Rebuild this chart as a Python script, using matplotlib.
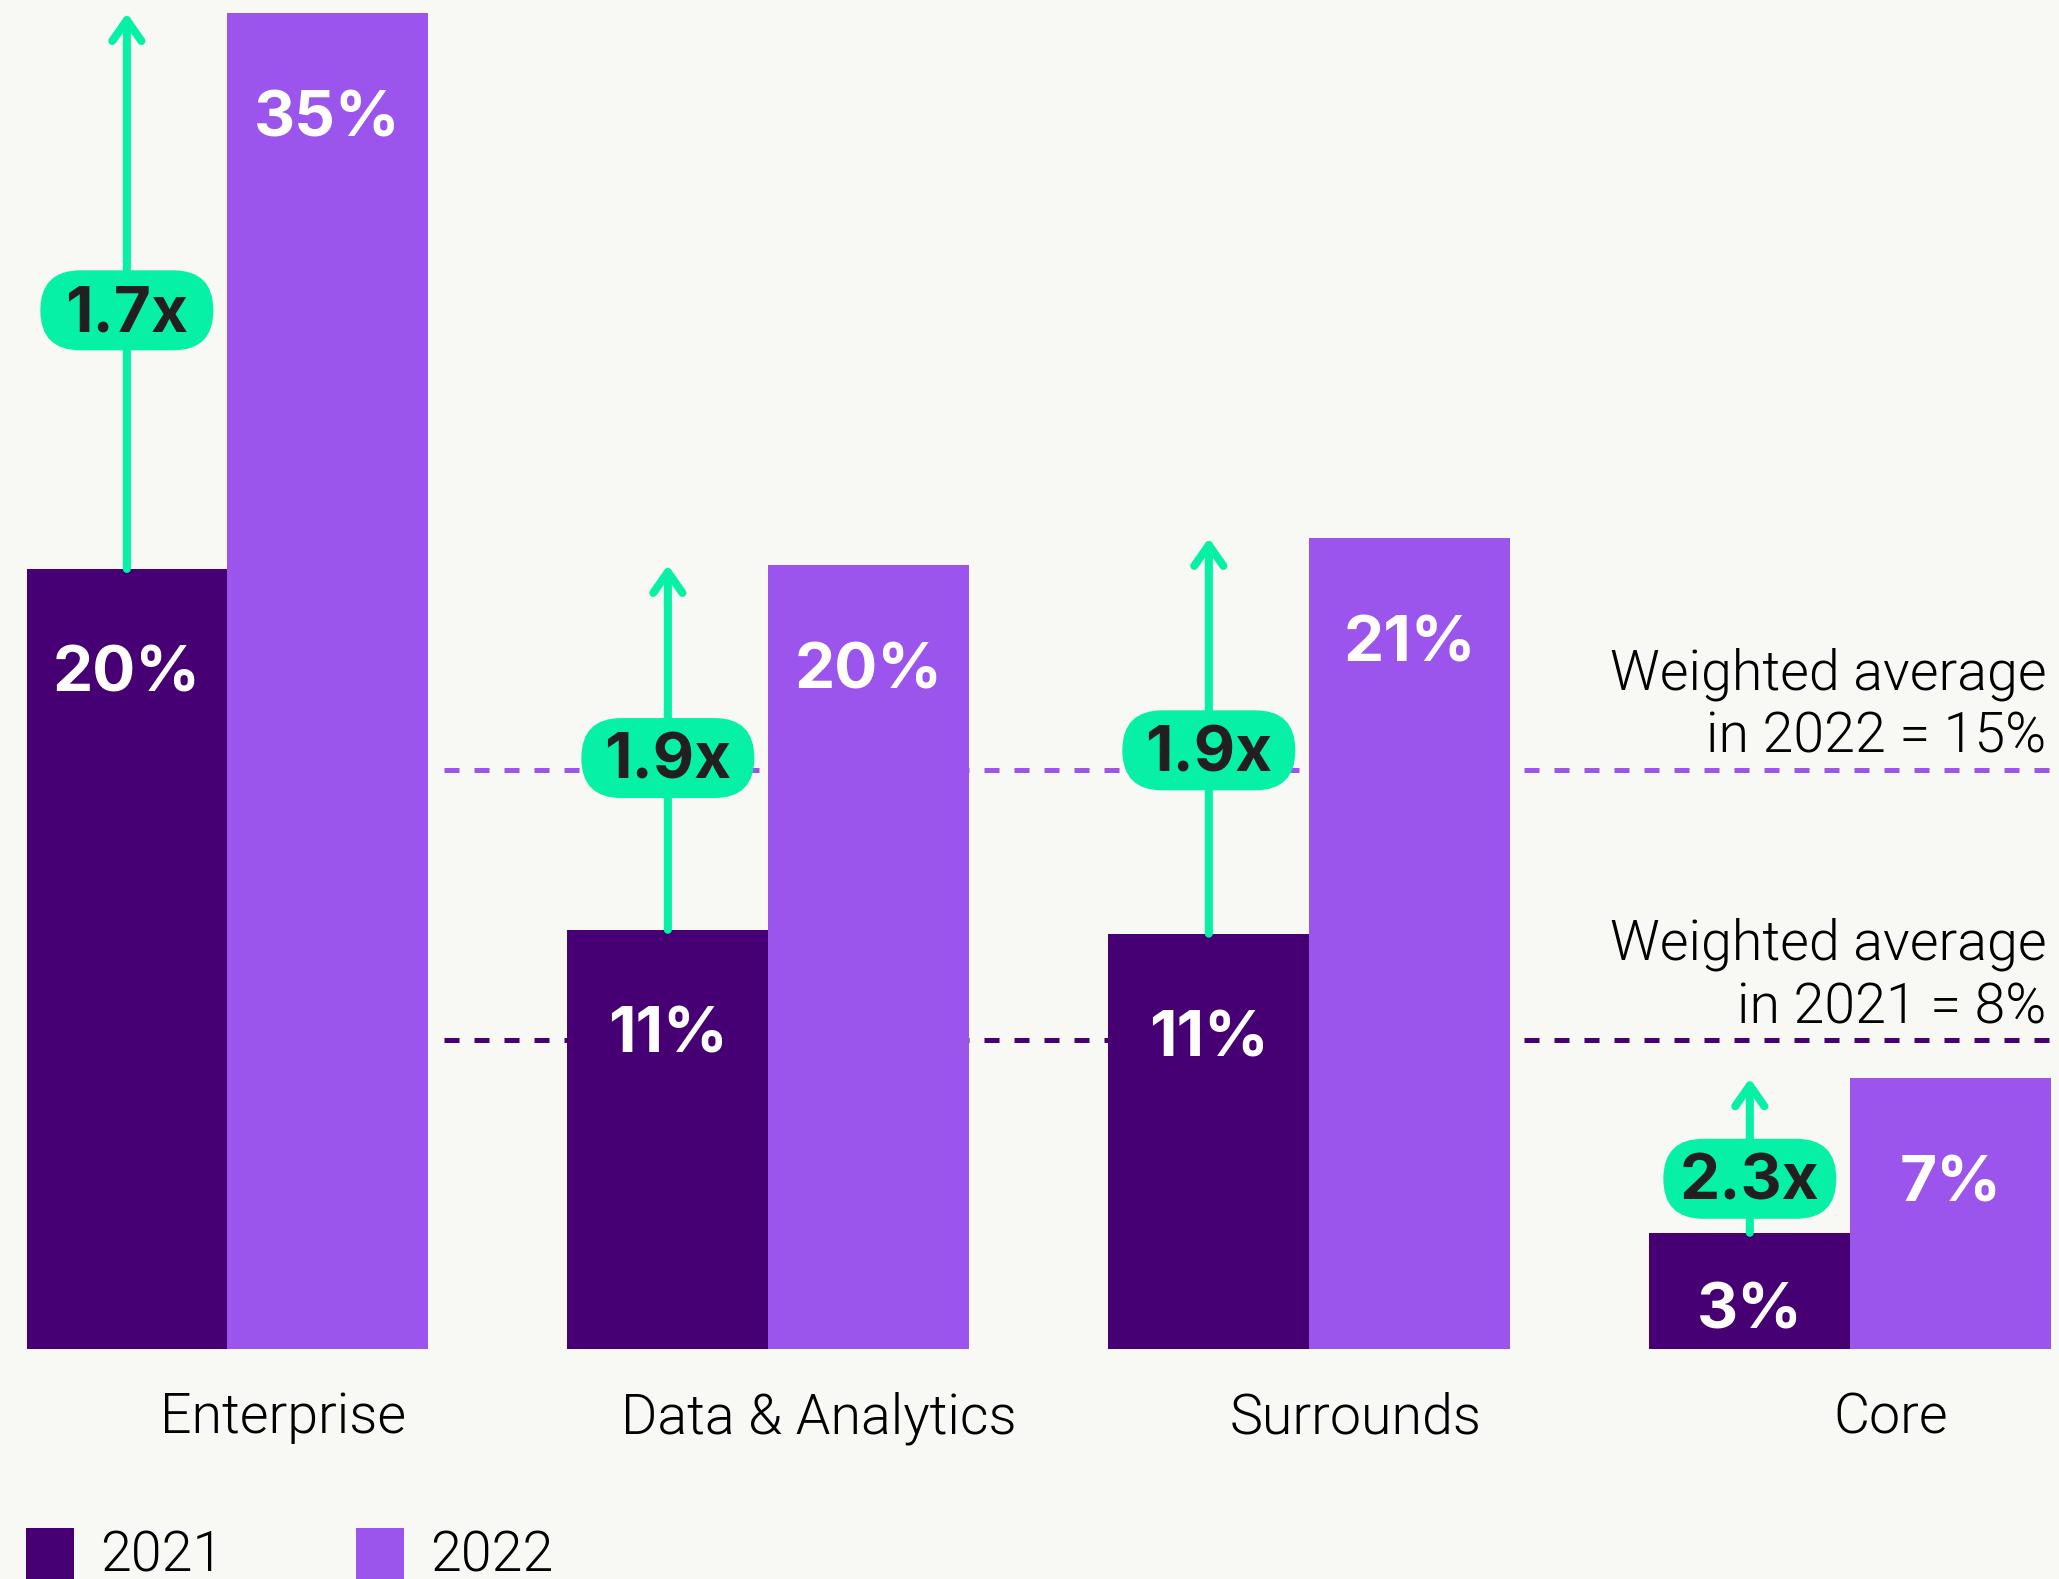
import matplotlib.pyplot as plt
from matplotlib.patches import FancyBboxPatch, Rectangle
from matplotlib.transforms import ScaledTranslation

# data
categories = ['Enterprise', 'Data & Analytics', 'Surrounds', 'Core']
share_2021 = [20.2, 10.85, 10.75, 3.0]
share_2022 = [34.6, 20.3, 21.0, 7.0]
labels_2021 = ['20%', '11%', '11%', '3%']
labels_2022 = ['35%', '20%', '21%', '7%']
growth = ['1.7x', '1.9x', '1.9x', '2.3x']
avg_2021 = 8
avg_2022 = 15
years = ['2021', '2022']

# layout only
badge_y = [26.9, 15.3, 15.5, 4.4]
label_dx = [0.103, 0.093, 0.085, 0.074]

c21 = '#460073'
c22 = '#9b55ec'
green = '#06f0a6'
bg = '#f8f8f4'
W, H = 2059, 1579

plt.rcParams['font.family'] = ['Roboto', 'DejaVu Sans']
bold_font = ['Inter', 'Roboto', 'DejaVu Sans']

fig = plt.figure(figsize=(W / 100, H / 100), dpi=100, facecolor=bg)
base_px = 1348.6
ax = fig.add_axes([0, 1 - base_px / H, 1, base_px / H])
ax.set_facecolor(bg)
ax.set_xlim(-0.42, 3.386)
ax.set_ylim(0, 34.94)
ax.axis('off')

bw = 0.371
x = list(range(len(categories)))
x21 = [i - bw / 2 for i in x]
x22 = [i + bw / 2 for i in x]

ax.bar(x21, share_2021, width=bw, color=c21, zorder=2)
ax.bar(x22, share_2022, width=bw, color=c22, zorder=2)

# grey baseline, sitting just under the bars
shift = ScaledTranslation(0, -0.03, fig.dpi_scale_trans)
ax.plot([x[0] - bw, x[-1] + bw], [0, 0], color='#cacac6', lw=4.3,
        solid_capstyle='butt', transform=ax.transData + shift, zorder=1)

# weighted average lines
ax.plot([x[0] + bw + 0.03, ax.get_xlim()[1]], [avg_2022, avg_2022], color=c22,
        lw=3.6, ls=(0, (3, 3)), zorder=1)
ax.plot([x[0] + bw + 0.03, ax.get_xlim()[1]], [avg_2021, avg_2021], color=c21,
        lw=3.6, ls=(0, (3, 3)), zorder=1)
for val, yr in [(avg_2022, '2022'), (avg_2021, '2021')]:
    ax.annotate('Weighted average', xy=(1, val), xycoords=('axes fraction', 'data'),
                xytext=(-9, 58), textcoords='offset points', ha='right', va='baseline',
                fontsize=40, fontweight=300, color='black')
    ax.annotate(f'in {yr} = {val}%', xy=(1, val), xycoords=('axes fraction', 'data'),
                xytext=(-9, 12), textcoords='offset points', ha='right', va='baseline',
                fontsize=40, fontweight=300, color='black')

# value labels
for i in x:
    for xp, v, lab in [(x21[i], share_2021[i], labels_2021[i]),
                       (x22[i], share_2022[i], labels_2022[i])]:
        if v < 5:
            xy, off = (xp, 0), 14.4
        else:
            xy, off = (xp, v), -88.6
        ax.annotate(lab, xy=xy, xytext=(0, off), textcoords='offset points',
                    ha='center', va='baseline', color='white', fontsize=46,
                    fontweight='bold', family=bold_font, zorder=5)

# growth arrows + badges
for i in x:
    ax.annotate('', xy=(x21[i], share_2022[i]), xytext=(x21[i], share_2021[i]),
                arrowprops=dict(arrowstyle='->,head_length=0.5,head_width=0.35',
                                color=green, lw=5.8, shrinkA=0, shrinkB=0,
                                mutation_scale=30),
                zorder=3)
    pill = FancyBboxPatch((-0.865, -0.40), 1.73, 0.80,
                          boxstyle='round,pad=0,rounding_size=0.4',
                          fc=green, ec='none', zorder=4,
                          transform=fig.dpi_scale_trans +
                          ScaledTranslation(x21[i], badge_y[i], ax.transData))
    ax.add_patch(pill)
    ax.annotate(growth[i], xy=(x21[i], badge_y[i]), xytext=(0, -15),
                textcoords='offset points', ha='center', va='baseline',
                color='#231f20', fontsize=46, fontweight='bold',
                family=bold_font, zorder=5)

# category labels
for i in x:
    ax.annotate(categories[i], xy=(i + label_dx[i], 0), xytext=(0, -61),
                textcoords='offset points', ha='center', va='baseline',
                fontsize=40, fontweight=300, color='black', annotation_clip=False)

# legend
for xs, xt, col, yr in [(26, 100, c21, years[0]), (356, 430, c22, years[1])]:
    fig.add_artist(Rectangle((xs / W, (H - 1580) / H), 48 / W, 52 / H,
                             transform=fig.transFigure, fc=col, ec='none'))
    fig.text(xt / W, (H - 1571) / H, yr, ha='left', va='baseline',
             fontsize=40, fontweight=300, color='black')

fig.savefig('out.png', dpi=100, facecolor=bg)
